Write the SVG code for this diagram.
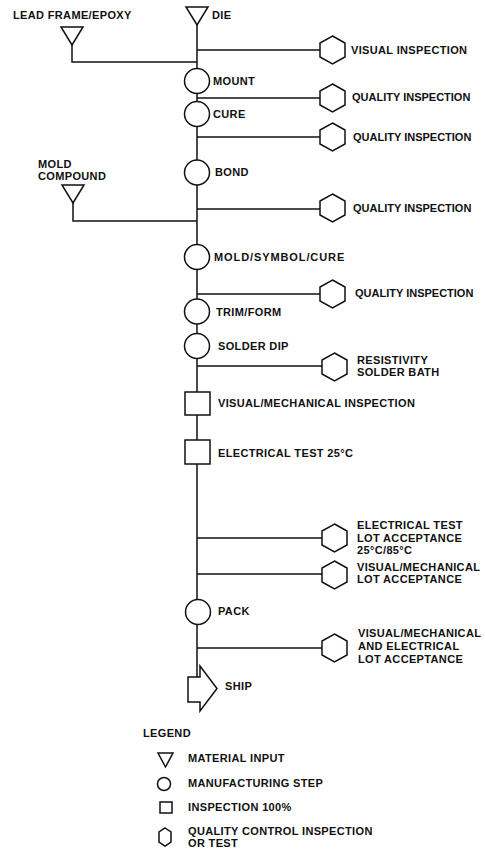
<svg xmlns="http://www.w3.org/2000/svg" width="485" height="851" viewBox="0 0 485 851">
<style>
text{font-family:"Liberation Sans",Arial,sans-serif;font-weight:bold;font-size:11px;fill:#111;letter-spacing:0.35px}
.q{letter-spacing:0}
.w{letter-spacing:0.9px}
.ln{fill:none;stroke:#111;stroke-width:1.5}
.sh{fill:#fff;stroke:#111;stroke-width:1.5;stroke-linejoin:miter}
</style>
<defs>
<polygon id="hex" points="0,-14 12.5,-7 12.5,7 0,14 -12.5,7 -12.5,-7" class="sh"/>
<polygon id="tri" points="-11,0 11,0 0,18" class="sh"/>
<circle id="circ" r="12.5" class="sh"/>
</defs>
<rect width="485" height="851" fill="#fff"/>
<g id="connectors" class="ln">
<path d="M197,25 V677"/>
<path d="M72,45 V62 H197"/>
<path d="M73,203 V221 H197"/>
<path d="M197,50 H320"/>
<path d="M197,98 H320"/>
<path d="M197,137 H320"/>
<path d="M197,209 H320"/>
<path d="M197,294 H320"/>
<path d="M197,366 H322"/>
<path d="M197,538 H322"/>
<path d="M197,574 H322"/>
<path d="M197,648 H322"/>
</g>
<g id="lead-frame"><use href="#tri" x="72" y="27"/><text x="13" y="19">LEAD FRAME/EPOXY</text></g>
<g id="die"><use href="#tri" x="197" y="7"/><text x="212" y="19">DIE</text></g>
<g id="visual-inspection"><use href="#hex" x="332.5" y="50"/><text x="351" y="54">VISUAL INSPECTION</text></g>
<g id="mount"><use href="#circ" x="197" y="81"/><text x="213" y="85">MOUNT</text></g>
<g id="qi1"><use href="#hex" x="332.5" y="98"/><text class="q" x="352" y="101">QUALITY INSPECTION</text></g>
<g id="cure"><use href="#circ" x="197" y="114"/><text x="213" y="118">CURE</text></g>
<g id="qi2"><use href="#hex" x="332.5" y="137"/><text class="q" x="353" y="141">QUALITY INSPECTION</text></g>
<g id="bond"><use href="#circ" x="197" y="172.5"/><text x="215" y="176">BOND</text></g>
<g id="mold-compound"><use href="#tri" x="73" y="185"/><text x="38" y="168">MOLD</text><text x="38" y="180">COMPOUND</text></g>
<g id="qi3"><use href="#hex" x="332.5" y="208"/><text class="q" x="353" y="212">QUALITY INSPECTION</text></g>
<g id="mold-symbol-cure"><use href="#circ" x="197" y="257"/><text class="w" x="214" y="261">MOLD/SYMBOL/CURE</text></g>
<g id="qi4"><use href="#hex" x="332.5" y="294"/><text class="q" x="355" y="297">QUALITY INSPECTION</text></g>
<g id="trim-form"><use href="#circ" x="197" y="311.5"/><text x="216" y="316">TRIM/FORM</text></g>
<g id="solder-dip"><use href="#circ" x="197" y="346"/><text x="218" y="350">SOLDER DIP</text></g>
<g id="resistivity"><use href="#hex" x="334.5" y="367"/><text x="357" y="364">RESISTIVITY</text><text x="357" y="376">SOLDER BATH</text></g>
<g id="vm-inspection"><rect class="sh" x="185" y="392" width="25" height="23"/><text x="218" y="407">VISUAL/MECHANICAL INSPECTION</text></g>
<g id="electrical-test"><rect class="sh" x="185" y="440" width="25" height="24"/><text x="218" y="457">ELECTRICAL TEST 25°C</text></g>
<g id="et-lot"><use href="#hex" x="334.5" y="538"/><text x="357" y="529">ELECTRICAL TEST</text><text x="357" y="542">LOT ACCEPTANCE</text><text x="357" y="554">25°C/85°C</text></g>
<g id="vm-lot"><use href="#hex" x="334.5" y="575"/><text x="357" y="571">VISUAL/MECHANICAL</text><text x="357" y="583">LOT ACCEPTANCE</text></g>
<g id="pack"><use href="#circ" x="198" y="612"/><text x="218" y="615">PACK</text></g>
<g id="vme-lot"><use href="#hex" x="334.5" y="648"/><text x="358" y="637">VISUAL/MECHANICAL</text><text x="358" y="650">AND ELECTRICAL</text><text x="358" y="663">LOT ACCEPTANCE</text></g>
<g id="ship"><path class="sh" d="M188,677 H200 V666 L217,688.5 L200,711 V702 H188 Z"/><text x="225" y="690">SHIP</text></g>
<g id="legend">
<text x="143" y="737">LEGEND</text>
<polygon class="sh" points="158,753 173,753 165.5,767"/><text x="188" y="762">MATERIAL INPUT</text>
<circle class="sh" cx="164" cy="784" r="6.5"/><text x="188" y="787">MANUFACTURING STEP</text>
<rect class="sh" x="160" y="802" width="12" height="11"/><text x="188" y="811">INSPECTION 100%</text>
<polygon class="sh" points="165,828 171,832 171,842 165,846 159,842 159,832"/><text x="188" y="835">QUALITY CONTROL INSPECTION</text><text x="188" y="847">OR TEST</text>
</g>
</svg>
